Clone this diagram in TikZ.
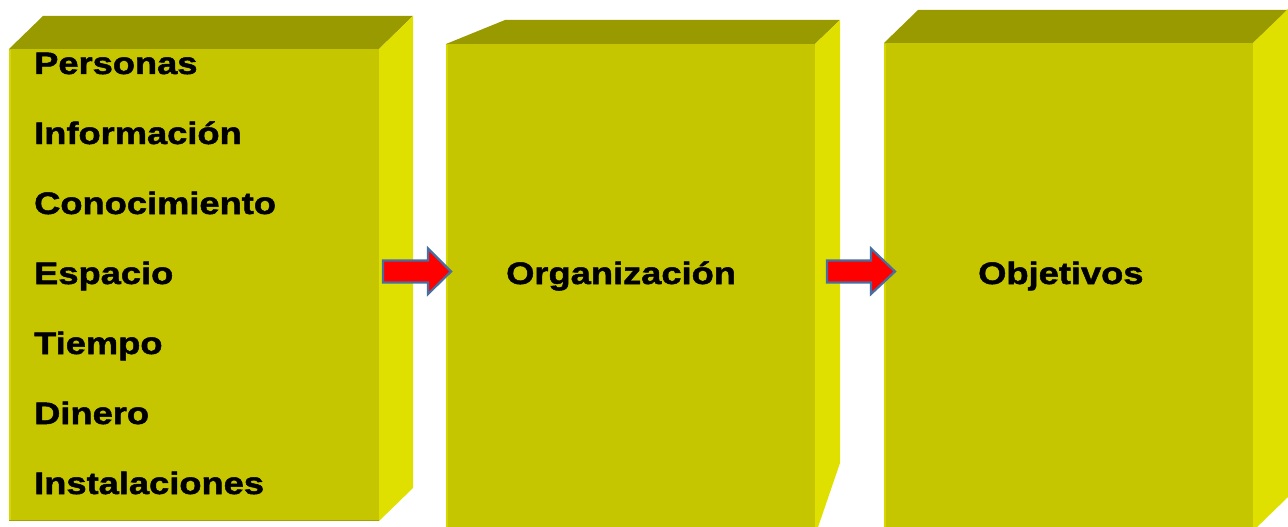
\documentclass[tikz,border=0pt]{standalone}
\usepackage{fontspec}
\setmainfont{Liberation Sans}[FakeStretch=1.17, BoldFeatures={FakeBold=1.6}]
\definecolor{frontc}{RGB}{198,198,0}
\definecolor{topc}{RGB}{153,153,0}
\definecolor{sidec}{RGB}{224,224,0}
\definecolor{edgec}{RGB}{214,214,0}
\definecolor{arrowfill}{RGB}{255,0,0}
\definecolor{arrowline}{RGB}{70,110,160}
\tikzset{
  front/.style={fill=frontc, draw=none},
  topface/.style={fill=topc, draw=none},
  sideface/.style={fill=sidec, draw=none},
  lightedge/.style={draw=edgec, line width=2pt},
  blockarrow/.style={fill=arrowfill, draw=arrowline, line width=2.2pt, line join=miter},
  label/.style={font=\bfseries\fontsize{31}{31}\selectfont, inner sep=0pt, anchor=base west},
}
\begin{document}
\begin{tikzpicture}[x=1pt,y=-1pt]
\useasboundingbox (0,0) rectangle (1288,527);
\clip (0,0) rectangle (1288,527);
% Box 1
\fill[topface] (9,49) -- (43,16) -- (413,16) -- (379,49) -- cycle;
\fill[sideface] (379,49) -- (413,16) -- (413,488) -- (379,521) -- cycle;
\fill[front] (9,49) rectangle (379,521);
\draw[lightedge] (10,50) -- (10,520);
\draw[draw=topc!80!frontc, line width=1.5pt] (9,520.5) -- (379,520.5);
% Box 2
\fill[topface] (446,44) -- (505,20) -- (840,20) -- (815,44) -- cycle;
\fill[sideface] (815,44) -- (840,20) -- (840,463) -- (815,536) -- cycle;
\fill[front] (446,44) rectangle (815,540);
\draw[lightedge] (447,45) -- (447,540);
% Box 3
\fill[topface] (884,43) -- (918,10) -- (1288,10) -- (1253,43) -- cycle;
\fill[sideface] (1253,43) -- (1288,9) -- (1288,497) -- (1253,531) -- cycle;
\fill[front] (884,43) rectangle (1253,540);
\draw[lightedge] (885,44) -- (885,540);
% Arrows
\coordinate (a1) at (383,271.5);
\draw[blockarrow] (a1) ++(0,-11) -- ++(45,0) -- ++(0,-12) -- (451,271.5) -- (428,294) -- ++(0,-11.5) -- (383,282.5) -- cycle;
\coordinate (a2) at (827,271.5);
\draw[blockarrow] (a2) ++(0,-11) -- ++(44,0) -- ++(0,-12) -- (895,271.5) -- (871,294) -- ++(0,-11.5) -- (827,282.5) -- cycle;
% Labels
\node[label] (t1) at (34,74) {Personas};
\node[label] (t2) at (34,144) {Información};
\node[label] (t3) at (34,214) {Conocimiento};
\node[label] (t4) at (34,284) {Espacio};
\node[label] (t5) at (34,354) {Tiempo};
\node[label] (t6) at (34,424) {Dinero};
\node[label] (t7) at (34,494) {Instalaciones};
\node[label] (org) at (506,284) {Organización};
\node[label] (obj) at (978,284) {Objetivos};
\end{tikzpicture}
\end{document}
